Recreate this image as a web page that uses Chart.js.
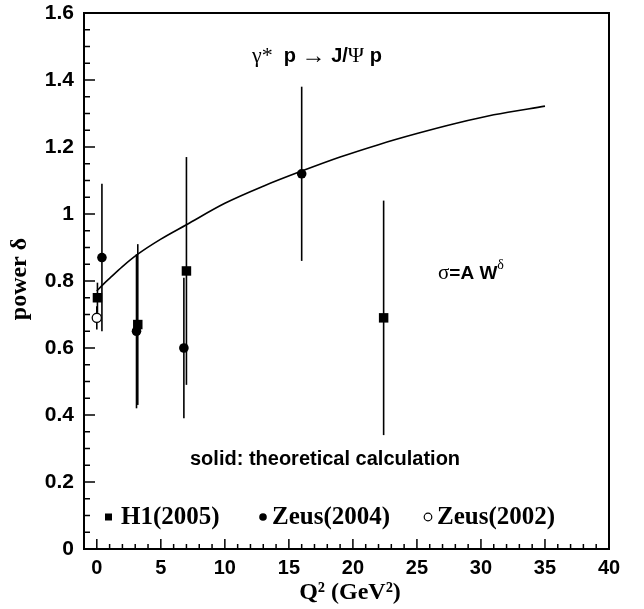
<!DOCTYPE html>
<html>
<head>
<meta charset="utf-8">
<script src="https://cdn.jsdelivr.net/npm/chart.js@4.4.0/dist/chart.umd.min.js"></script>
<style>
  body { margin: 0; background: #fff; }
</style>
</head>
<body>
<canvas id="chart" width="644" height="609"></canvas>
<script>
// tick labels
const xTickValues = [0, 5, 10, 15, 20, 25, 30, 35, 40];
const yTickValues = [0, 0.2, 0.4, 0.6, 0.8, 1, 1.2, 1.4, 1.6];

// H1 (2005) - squares
const h1Q2 = [0.05, 3.2, 7.0, 22.4];
const h1Delta = [0.75, 0.67, 0.83, 0.69];
const h1Err = [0.045, 0.24, 0.34, 0.35];

// Zeus (2004) - filled circles
const zeus04Q2 = [0.4, 3.1, 6.8, 16.0];
const zeus04Delta = [0.87, 0.65, 0.60, 1.12];
const zeus04Err = [0.22, 0.23, 0.21, 0.26];

// Zeus (2002) - open circle
const zeus02Q2 = [0.0];
const zeus02Delta = [0.69];
const zeus02Err = [0.035];

// theoretical calculation (solid line)
const theoryQ2 = [0, 0.5, 1, 2, 3.2, 5, 7, 10, 13, 16, 19, 22, 25, 28, 31, 35];
const theoryDelta = [0.77, 0.79, 0.808, 0.843, 0.88, 0.925, 0.968, 1.032, 1.083, 1.128, 1.17, 1.207, 1.24, 1.27, 1.296, 1.322];

function toPoints(xs, ys) {
    return xs.map((v, i) => ({ x: v, y: ys[i] }));
}

const errorSets = [
    { q2: zeus02Q2, delta: zeus02Delta, err: zeus02Err },
    { q2: h1Q2, delta: h1Delta, err: h1Err },
    { q2: zeus04Q2, delta: zeus04Delta, err: zeus04Err }
];

const SANS = '"Liberation Sans", Arial, sans-serif';
const SERIF = '"Liberation Serif", "Times New Roman", serif';

// draw a row of text pieces with different fonts, left to right
function drawRuns(ctx, runs, x, y) {
    runs.forEach(r => {
        ctx.font = r.font;
        ctx.fillText(r.text, x, y + (r.dy || 0));
        x += ctx.measureText(r.text).width;
    });
}

const framePlugin = {
    id: 'frame',
    beforeDatasetsDraw(chart) {
        const { ctx, scales: { x, y } } = chart;
        ctx.save();
        ctx.strokeStyle = '#000';
        ctx.lineWidth = 1.6;
        errorSets.forEach(s => {
            s.q2.forEach((q, i) => {
                const px = x.getPixelForValue(q);
                ctx.beginPath();
                ctx.moveTo(px, y.getPixelForValue(s.delta[i] - s.err[i]));
                ctx.lineTo(px, y.getPixelForValue(s.delta[i] + s.err[i]));
                ctx.stroke();
            });
        });
        ctx.restore();
    },
    afterDraw(chart) {
        const { ctx, chartArea: a, scales: { x, y } } = chart;
        ctx.save();
        ctx.strokeStyle = '#000';
        ctx.fillStyle = '#000';

        // box
        ctx.lineWidth = 2;
        ctx.strokeRect(a.left, a.top, a.right - a.left, a.bottom - a.top);

        // inward ticks
        ctx.lineWidth = 1.5;
        ctx.beginPath();
        for (let k = 0; k <= 32; k++) {
            const py = y.getPixelForValue(k * 0.05);
            ctx.moveTo(a.left, py);
            ctx.lineTo(a.left + (k % 4 === 0 ? 11 : 6), py);
        }
        for (let k = 0; k <= 40; k++) {
            const px = x.getPixelForValue(k);
            ctx.moveTo(px, a.bottom);
            ctx.lineTo(px, a.bottom - (k % 5 === 0 ? 10 : 5));
        }
        ctx.stroke();

        // axis titles
        ctx.textBaseline = 'middle';
        ctx.textAlign = 'center';
        ctx.font = 'bold 24px ' + SERIF;
        ctx.fillText('Q\u00B2 (GeV\u00B2)', 350, 593);
        ctx.save();
        ctx.translate(20, 279);
        ctx.rotate(-Math.PI / 2);
        ctx.fillText('power \u03B4', 0, 0);
        ctx.restore();

        // annotations
        ctx.textAlign = 'left';
        ctx.textBaseline = 'alphabetic';
        drawRuns(ctx, [
            { text: '\u03B3*', font: '22px ' + SERIF },
            { text: '  p ', font: 'bold 20px ' + SANS },
            { text: '\u2192', font: '24px ' + SERIF, dy: 1 },
            { text: ' J/', font: 'bold 20px ' + SANS },
            { text: '\u03A8', font: '22px ' + SERIF },
            { text: ' p', font: 'bold 20px ' + SANS }
        ], 252, 62);
        drawRuns(ctx, [
            { text: '\u03C3', font: '21px ' + SERIF },
            { text: '=A W', font: 'bold 19px ' + SANS },
            { text: '\u03B4', font: '14px ' + SERIF, dy: -10 }
        ], 438, 279);
        ctx.font = 'bold 20px ' + SANS;
        ctx.fillText('solid: theoretical calculation', 190, 465);

        // legend
        const ly = 517;
        ctx.fillRect(105, ly - 3.5, 7, 7);
        ctx.beginPath();
        ctx.arc(263, ly, 3.8, 0, Math.PI * 2);
        ctx.fill();
        ctx.beginPath();
        ctx.lineWidth = 1.2;
        ctx.arc(428, ly, 3.8, 0, Math.PI * 2);
        ctx.stroke();
        ctx.textBaseline = 'middle';
        ctx.font = 'bold 25px ' + SERIF;
        ctx.fillText('H1(2005)', 121, ly + 1);
        ctx.fillText('Zeus(2004)', 272, ly + 1);
        ctx.fillText('Zeus(2002)', 437, ly + 1);

        ctx.restore();
    }
};

new Chart(document.getElementById('chart'), {
    type: 'scatter',
    data: {
        datasets: [
            {
                label: 'theory',
                data: toPoints(theoryQ2, theoryDelta),
                showLine: true,
                borderColor: '#000',
                borderWidth: 1.6,
                pointRadius: 0,
                cubicInterpolationMode: 'monotone'
            },
            {
                label: 'Zeus(2002)',
                data: toPoints(zeus02Q2, zeus02Delta),
                pointStyle: 'circle',
                pointRadius: 4.6,
                backgroundColor: '#fff',
                borderColor: '#000',
                borderWidth: 1.3
            },
            {
                label: 'H1(2005)',
                data: toPoints(h1Q2, h1Delta),
                pointStyle: 'rect',
                pointRadius: 6.7,
                backgroundColor: '#000',
                borderColor: '#000',
                borderWidth: 0
            },
            {
                label: 'Zeus(2004)',
                data: toPoints(zeus04Q2, zeus04Delta),
                pointStyle: 'circle',
                pointRadius: 4.8,
                backgroundColor: '#000',
                borderColor: '#000',
                borderWidth: 0
            }
        ]
    },
    options: {
        responsive: false,
        animation: false,
        layout: { padding: { top: 13, right: 35, left: 0, bottom: 0 } },
        plugins: {
            legend: { display: false },
            tooltip: { enabled: false }
        },
        scales: {
            x: {
                type: 'linear',
                min: -1,
                max: 40,
                grid: { display: false, drawTicks: false },
                border: { display: false },
                afterBuildTicks: scale => { scale.ticks = xTickValues.map(v => ({ value: v })); },
                afterFit: scale => {
                    scale.height = 60;
                    scale.paddingLeft = 0;
                    scale.paddingRight = 0;
                },
                ticks: {
                    padding: 7,
                    color: '#000',
                    font: { family: SANS, size: 20, weight: 'bold' },
                    callback: v => String(v)
                }
            },
            y: {
                type: 'linear',
                min: 0,
                max: 1.6,
                grid: { display: false, drawTicks: false },
                border: { display: false },
                afterBuildTicks: scale => { scale.ticks = yTickValues.map(v => ({ value: v })); },
                afterFit: scale => {
                    scale.width = 84;
                    scale.paddingTop = 0;
                    scale.paddingBottom = 0;
                },
                ticks: {
                    padding: 10,
                    color: '#000',
                    font: { family: SANS, size: 21, weight: 'bold' },
                    callback: v => String(v)
                }
            }
        }
    },
    plugins: [framePlugin]
});
</script>
</body>
</html>
